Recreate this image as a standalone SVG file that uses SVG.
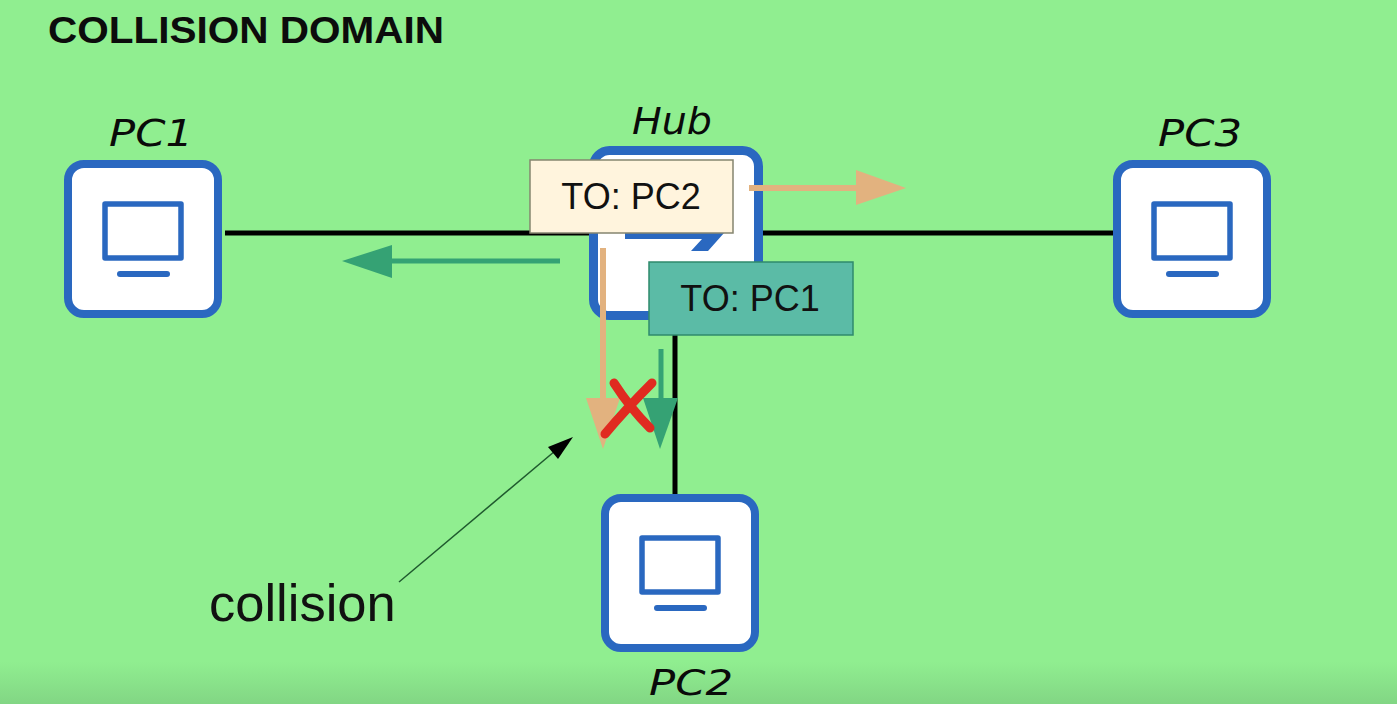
<svg xmlns="http://www.w3.org/2000/svg" width="1397" height="704" viewBox="0 0 1397 704">
<style>
.box{fill:#fff;stroke:#2a68c0;stroke-width:8}
.scr{fill:none;stroke:#2a68c0;stroke-width:5.500;stroke-linejoin:round}
.bar{fill:#2a68c0}
.hw{font-family:"DejaVu Sans",sans-serif;font-style:italic;font-size:38px;fill:#0a0a0a;text-anchor:middle}
.lbl{font-family:"Liberation Sans",Arial,sans-serif;font-size:36px;fill:#111;text-anchor:middle}
.wire{stroke:#000;stroke-width:5;fill:none}
.or{stroke:#e2b27f;stroke-width:6;fill:none}
.gr{stroke:#35a274;stroke-width:5;fill:none}
.orh{fill:#e2b27f}
.grh{fill:#35a274}
</style>
<defs>
<linearGradient id="bg" x1="0" y1="0" x2="0" y2="1">
<stop offset="0" stop-color="#90ee90"/><stop offset="0.94" stop-color="#90ee90"/><stop offset="1" stop-color="#82d684"/>
</linearGradient>
<g id="pc">
<rect class="box" x="4" y="4" width="150" height="150" rx="16"/>
<rect class="scr" x="41" y="44" width="76" height="54"/>
<rect class="bar" x="53" y="111" width="53" height="6" rx="3"/>
</g>
</defs>
<rect id="background" width="1397" height="704" fill="url(#bg)"/>
<text x="48" y="43" font-family="Liberation Sans,Arial,sans-serif" font-weight="700" font-size="37" fill="#0c0c0c" textLength="396" lengthAdjust="spacingAndGlyphs">COLLISION DOMAIN</text>

<g id="connectors">
<path class="wire" d="M225 233H592M760 233H1113M675 333V496"/>
</g>

<g id="hub">
<rect x="593.500" y="150.500" width="165" height="165" rx="16" fill="#fff" stroke="#2a68c0" stroke-width="9"/>
<path class="bar" d="M625 233H724L708 251H691L702 239H625Z"/>
<text class="hw" x="672" y="134" textLength="80" lengthAdjust="spacingAndGlyphs">Hub</text>
</g>
<g id="pc1">
<use href="#pc" x="64" y="160"/>
<text class="hw" x="151" y="146" textLength="84" lengthAdjust="spacingAndGlyphs">PC1</text>
</g>
<g id="pc3">
<use href="#pc" x="1113" y="160"/>
<text class="hw" x="1200" y="146" textLength="84" lengthAdjust="spacingAndGlyphs">PC3</text>
</g>
<g id="pc2">
<use href="#pc" x="601" y="494"/>
<text class="hw" x="691" y="695" font-size="36" style="font-size:36px" textLength="84" lengthAdjust="spacingAndGlyphs">PC2</text>
</g>

<g id="frame-pc2">
<rect x="530" y="160" width="203" height="73" fill="#fff4dd" stroke="#85856f" stroke-width="1.500"/>
<text class="lbl" x="631" y="209">TO: PC2</text>
</g>
<g id="frame-pc1">
<rect x="649" y="262" width="204" height="73" fill="#5bbba6" stroke="#2f8a6c" stroke-width="1.500"/>
<text class="lbl" x="750" y="311">TO: PC1</text>
</g>

<g id="signals">
<path class="or" d="M749 188H858"/><path class="orh" d="M856 170L906 188L856 205Z"/>
<path class="gr" d="M560 261H390"/><path class="grh" d="M392 245L342 261L392 278Z"/>
<path class="or" d="M603 248V400"/><path class="orh" d="M586 398H620L603 449Z"/>
<path class="gr" d="M661 349V400"/><path class="grh" d="M643 398H678L660 449Z"/>
<path d="M614 383Q630 408 650 428M652 383Q625 410 605 434" stroke="#e02a20" stroke-width="9" stroke-linecap="round" fill="none"/>
</g>

<g id="collision-note">
<path d="M399 582L555 451" stroke="#1f5a2e" stroke-width="1.500" fill="none"/>
<path d="M573 437L548 447L558 459Z" fill="#000"/>
<text x="209" y="621" font-family="Liberation Sans,Arial,sans-serif" font-size="52.500" fill="#111">collision</text>
</g>
</svg>
